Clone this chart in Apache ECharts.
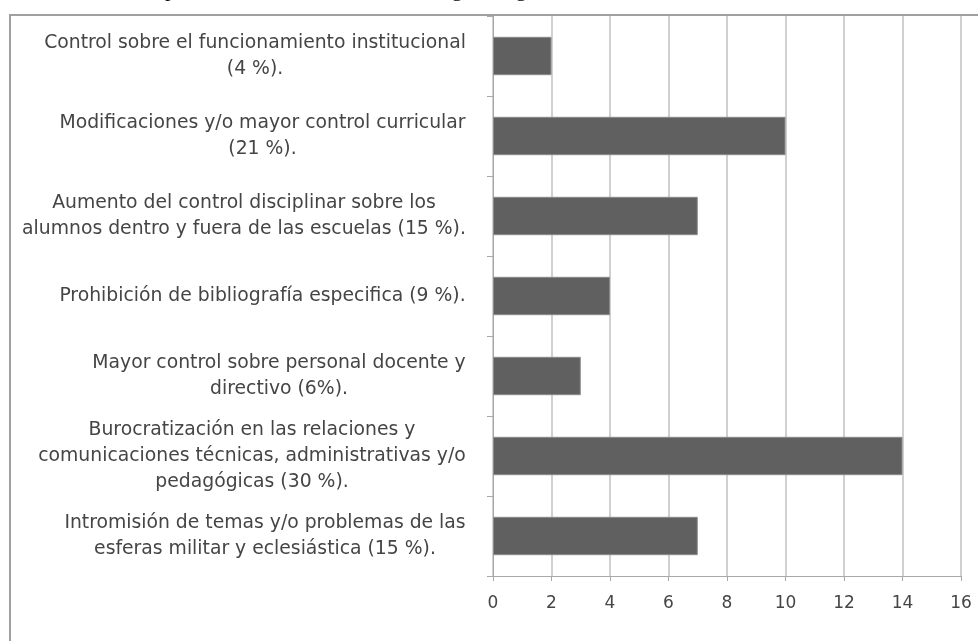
<!DOCTYPE html>
<html><head><meta charset="utf-8">
<script src="https://cdn.jsdelivr.net/npm/echarts@6/dist/echarts.min.js"></script>
<style>html,body{margin:0;padding:0;background:#fff}#c{width:978px;height:641px}</style>
</head><body><div id="c"></div>
<script>
const categories = [
  "Control sobre el funcionamiento institucional\n(4 %).",
  "Modificaciones y/o mayor control curricular\n(21 %).",
  "Aumento del control disciplinar sobre los\nalumnos dentro y fuera de las escuelas (15 %).",
  "Prohibición de bibliografía especifica (9 %).",
  "Mayor control sobre personal docente y\ndirectivo (6%).",
  "Burocratización en las relaciones y\ncomunicaciones técnicas, administrativas y/o\npedagógicas (30 %).",
  "Intromisión de temas y/o problemas de las\nesferas militar y eclesiástica (15 %)."
];
const values = [2, 10, 7, 4, 3, 14, 7];
const xMin = 0, xMax = 16, xStep = 2;
const topText = "Gráfico elaborado por la Construcción de la Investigación general";

const labelFamily = 'DejaVu Sans';
const labelSize = 18.8;
const cv = document.createElement('canvas').getContext('2d');
cv.font = labelSize + "px '" + labelFamily + "'";
const rich = {};
categories.forEach((c, i) => {
  const w = Math.max(...c.split('\n').map(l => cv.measureText(l).width));
  rich['w' + i] = { width: Math.ceil(w) + 2, align: 'center', fontFamily: labelFamily, fontSize: labelSize, color: '#454545', lineHeight: 26 };
});

const chart = echarts.init(document.getElementById('c'), null, { renderer: 'canvas' });
chart.setOption({
  animation: false,
  backgroundColor: '#fff',
  grid: { left: 493, right: 17, top: 16, bottom: 65, containLabel: false },
  xAxis: {
    type: 'value', min: xMin, max: xMax, interval: xStep,
    axisLine: { show: true, lineStyle: { color: '#a8a8a8', width: 1 } },
    axisTick: { show: true, length: 5, lineStyle: { color: '#a8a8a8' } },
    axisLabel: { margin: 19, fontFamily: labelFamily, fontSize: 17, color: '#454545' },
    splitLine: { show: true, lineStyle: { color: '#c0c0c0', width: 1.5 } }
  },
  yAxis: {
    type: 'category', data: categories, inverse: true,
    axisLine: { show: true, lineStyle: { color: '#a8a8a8', width: 1 } },
    axisTick: { show: true, length: 6, lineStyle: { color: '#a8a8a8' } },
    axisLabel: {
      margin: 26, align: 'right', rich: rich,
      formatter: (v) => {
        const i = categories.indexOf(v);
        return v.split('\n').map(l => '{w' + i + '|' + l + '}').join('\n');
      }
    },
    splitLine: { show: false }
  },
  series: [{
    type: 'bar', data: values, barCategoryGap: '52%',
    itemStyle: { color: '#606060', borderColor: '#8a8a8a', borderWidth: 1 }
  }],
  graphic: [
    { type: 'rect', z: 100, silent: true, shape: { x: 10, y: 15, width: 1100, height: 800 },
      style: { fill: 'none', stroke: '#a0a0a0', lineWidth: 2 } },
    { type: 'text', z: 100, x: 0, y: -21,
      style: { text: topText, font: "22px 'Liberation Serif'", fill: '#000', textVerticalAlign: 'top' } }
  ]
});
</script></body></html>
